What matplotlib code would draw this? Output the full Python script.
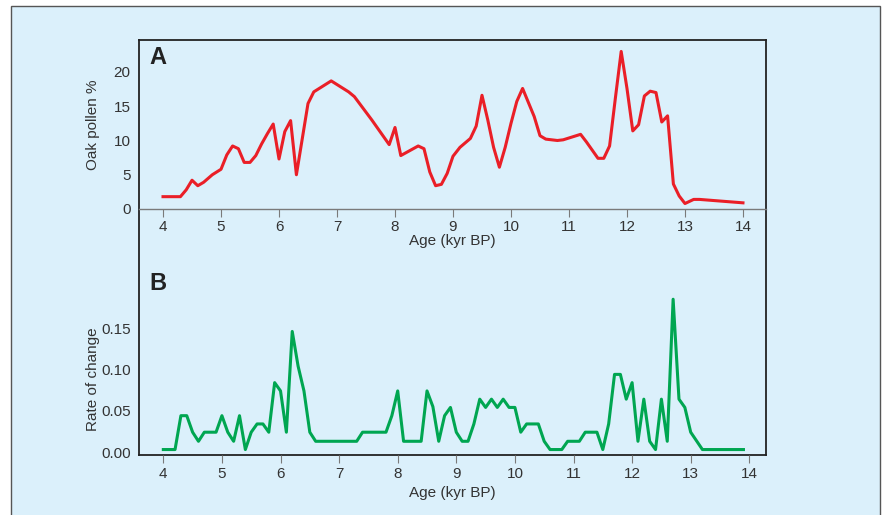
import matplotlib
matplotlib.use("Agg")
import matplotlib.pyplot as plt
from matplotlib.patches import Rectangle

plt.rcParams['font.family'] = ['Liberation Sans', 'DejaVu Sans']

# Panel A - postotak peluda hrasta
age_a = [4.0, 4.3, 4.4, 4.5, 4.6, 4.7, 4.85, 5.0, 5.1, 5.2, 5.3, 5.4, 5.5, 5.6, 5.7, 5.8, 5.9,
         6.0, 6.1, 6.2, 6.3, 6.5, 6.6, 6.9, 7.2, 7.3, 7.6, 7.8, 7.9, 8.0, 8.1, 8.4, 8.5, 8.6,
         8.7, 8.8, 8.9, 9.0, 9.12, 9.3, 9.4, 9.5, 9.6, 9.7, 9.8, 9.9, 10.0, 10.1, 10.2, 10.4,
         10.5, 10.6, 10.8, 10.9, 11.2, 11.3, 11.5, 11.6, 11.7, 11.8, 11.9, 12.0, 12.1, 12.2,
         12.3, 12.4, 12.5, 12.6, 12.7, 12.8, 12.9, 13.0, 13.15, 13.25, 14.0]
oak = [1.8, 1.8, 2.8, 4.2, 3.4, 3.9, 5.0, 5.8, 7.9, 9.2, 8.8, 6.8, 6.8, 7.8, 9.5, 11.0, 12.4,
       7.3, 11.3, 12.9, 5.0, 15.4, 17.1, 18.7, 17.1, 16.4, 13.0, 10.6, 9.4, 11.9, 7.8, 9.2, 8.8, 5.4,
       3.4, 3.6, 5.2, 7.7, 9.0, 10.3, 12.1, 16.6, 13.0, 9.0, 6.1, 9.0, 12.5, 15.7, 17.6, 13.5,
       10.7, 10.2, 10.0, 10.1, 10.9, 9.8, 7.4, 7.4, 9.2, 16.2, 23.0, 17.6, 11.4, 12.3,
       16.5, 17.2, 17.0, 12.7, 13.6, 3.65, 1.9, 0.8, 1.4, 1.4, 0.9]

# Panel B - brzina promjene
age_b = [4.0, 4.2, 4.3, 4.4, 4.5, 4.6, 4.7, 4.9, 5.0, 5.1, 5.2, 5.3, 5.4, 5.5, 5.6, 5.7, 5.8,
         5.9, 6.0, 6.1, 6.2, 6.3, 6.4, 6.5, 6.6, 7.3, 7.4, 7.8, 7.9, 8.0, 8.1, 8.4, 8.5, 8.6,
         8.7, 8.8, 8.9, 9.0, 9.1, 9.2, 9.3, 9.4, 9.5, 9.6, 9.7, 9.8, 9.9, 10.0, 10.1, 10.2,
         10.4, 10.5, 10.6, 10.8, 10.9, 11.1, 11.2, 11.4, 11.5, 11.6, 11.7, 11.8, 11.9, 12.0,
         12.1, 12.2, 12.3, 12.4, 12.5, 12.6, 12.7, 12.8, 12.9, 13.0, 13.2, 13.9]
rate = [0.003, 0.003, 0.044, 0.044, 0.024, 0.013, 0.024, 0.024, 0.044, 0.024, 0.013, 0.044, 0.003,
        0.024, 0.034, 0.034, 0.024, 0.084, 0.074, 0.024, 0.146, 0.104, 0.074, 0.024, 0.013, 0.013,
        0.024, 0.024, 0.044, 0.074, 0.013, 0.013, 0.074, 0.055, 0.013, 0.044, 0.054, 0.024, 0.013,
        0.013, 0.034, 0.064, 0.054, 0.064, 0.054, 0.064, 0.054, 0.054, 0.024, 0.034, 0.034, 0.013,
        0.003, 0.003, 0.013, 0.013, 0.024, 0.024, 0.003, 0.034, 0.094, 0.094, 0.064, 0.084,
        0.013, 0.064, 0.013, 0.003, 0.064, 0.013, 0.185, 0.064, 0.054, 0.024, 0.003, 0.003]

xticks = [4, 5, 6, 7, 8, 9, 10, 11, 12, 13, 14]
yticks_a = [0, 5, 10, 15, 20]
yticks_b = [0.0, 0.05, 0.10, 0.15]

BG = "#dbf0fb"
TXT = "#333333"
FS = 11
W, H = 882, 515

fig = plt.figure(figsize=(8.82, 5.15), dpi=100, facecolor="white")

# vanjski okvir (ispod svega)
fig.patches.append(Rectangle((11 / W, -0.05), 869 / W, 1.05 - 6 / H, transform=fig.transFigure,
                             facecolor=BG, edgecolor="#555555", linewidth=1.0, zorder=-10))

left = 139 / W
width = (766 - 139) / W

# okvir oko oba grafa
frame = fig.add_axes([left, 1 - 455 / H, width, (455 - 40) / H])
frame.set_facecolor("none")
frame.set_xticks([])
frame.set_yticks([])
for s in frame.spines.values():
    s.set_color("#222222")
    s.set_linewidth(1.3)

# Graf A
ax1 = fig.add_axes([left, 1 - 209 / H, width, (209 - 40) / H])
ax1.set_facecolor("none")
ax1.plot(age_a, oak, color="#ea1f27", linewidth=2.2, solid_joinstyle="round")
ax1.set_xlim(3.586, 14.397)
ax1.set_ylim(0, 24.67)
ax1.set_xticks(xticks)
ax1.set_yticks(yticks_a)
for s in ["top", "left", "right"]:
    ax1.spines[s].set_visible(False)
ax1.spines["bottom"].set_color("#7a7a7a")
ax1.spines["bottom"].set_linewidth(1.0)
ax1.tick_params(axis="x", length=6, color="#7a7a7a", labelsize=FS, labelcolor=TXT, pad=2)
ax1.tick_params(axis="y", length=0, labelsize=FS, labelcolor=TXT, pad=6)
ax1.set_xlabel("Age (kyr BP)", fontsize=FS, color=TXT, labelpad=0)
ax1.set_ylabel("Oak pollen %", fontsize=FS, color=TXT)
ax1.yaxis.set_label_coords(-0.062, 0.5)

# Graf B
ax2 = fig.add_axes([left, 1 - 455 / H, width, (455 - 250) / H])
ax2.set_facecolor("none")
ax2.plot(age_b, rate, color="#00a651", linewidth=2.2, solid_joinstyle="round")
ax2.set_xlim(3.585, 14.285)
ax2.set_ylim(-0.0036, 0.2446)
ax2.set_xticks(xticks)
ax2.set_yticks(yticks_b)
ax2.set_yticklabels(["0.00", "0.05", "0.10", "0.15"])
for s in ax2.spines.values():
    s.set_visible(False)
ax2.tick_params(axis="x", length=6, color="#7a7a7a", labelsize=FS, labelcolor=TXT, pad=3)
ax2.tick_params(axis="y", length=0, labelsize=FS, labelcolor=TXT, pad=6)
ax2.set_xlabel("Age (kyr BP)", fontsize=FS, color=TXT, labelpad=3)
ax2.set_ylabel("Rate of change", fontsize=FS, color=TXT)
ax2.yaxis.set_label_coords(-0.062, 0.37)

fig.text(158 / W, 1 - 57 / H, "A", fontsize=17, fontweight="bold", color="#222222",
         ha="center", va="center")
fig.text(158 / W, 1 - 283 / H, "B", fontsize=17, fontweight="bold", color="#222222",
         ha="center", va="center")

fig.savefig("out.png", dpi=100, facecolor="white")
